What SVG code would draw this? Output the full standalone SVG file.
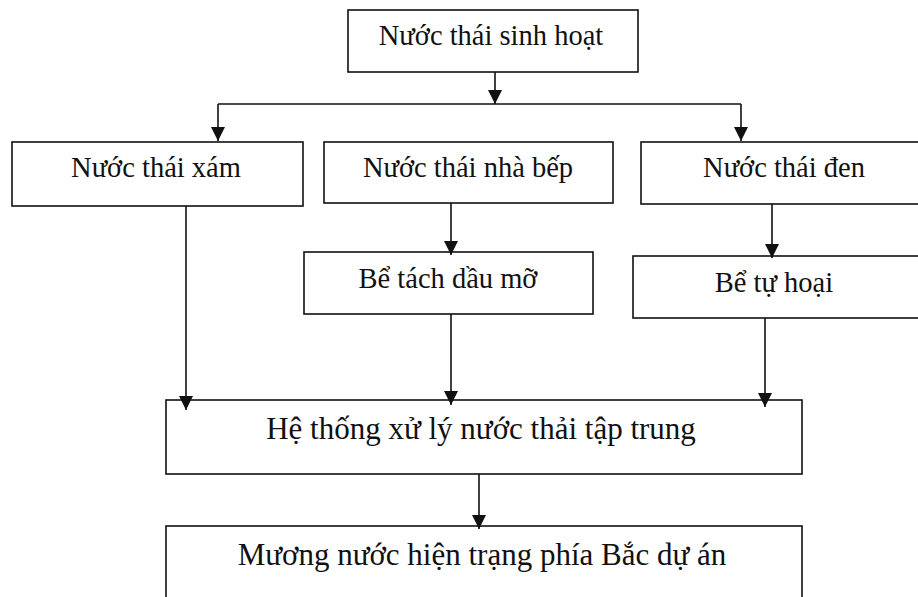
<svg xmlns="http://www.w3.org/2000/svg" width="918" height="597" viewBox="0 0 918 597">
  <style>
    .box { fill: #fff; stroke: #111; stroke-width: 1.6; }
    .lbl { font-family: "Liberation Serif", "Times New Roman", serif; fill: #111; text-anchor: middle; }
    .s { font-size: 28.5px; }
    .l { font-size: 31px; }
    .wire { fill: none; stroke: #111; stroke-width: 1.6; }
  </style>
  <defs>
    <marker id="arrow" markerUnits="userSpaceOnUse" markerWidth="16" markerHeight="16" viewBox="0 -8 16 16" refX="14" refY="0" orient="auto">
      <path d="M0,-7 L14,0 L0,7 z" fill="#111"/>
    </marker>
  </defs>
  <rect width="918" height="597" fill="#fff"/>

  <g id="sinh-hoat">
    <rect class="box" x="348" y="10" width="290" height="62"/>
    <text class="lbl s" x="491" y="45">Nước thái sinh hoạt</text>
  </g>

  <g id="xam">
    <rect class="box" x="12" y="142" width="291" height="64"/>
    <text class="lbl s" x="156" y="177">Nước thái xám</text>
  </g>

  <g id="nha-bep">
    <rect class="box" x="324" y="142" width="289" height="61"/>
    <text class="lbl s" x="468" y="177">Nước thái nhà bếp</text>
  </g>

  <g id="den">
    <rect class="box" x="641" y="142" width="290" height="62"/>
    <text class="lbl s" x="784" y="177">Nước thái đen</text>
  </g>

  <g id="tach-dau-mo">
    <rect class="box" x="304" y="252" width="289" height="62"/>
    <text class="lbl s" x="448" y="288">Bể tách dầu mỡ</text>
  </g>

  <g id="tu-hoai">
    <rect class="box" x="633" y="256" width="298" height="62"/>
    <text class="lbl s" x="774" y="292">Bể tự hoại</text>
  </g>

  <g id="xu-ly">
    <rect class="box" x="166" y="400" width="636" height="74"/>
    <text class="lbl l" x="481" y="439">Hệ thống xử lý nước thải tập trung</text>
  </g>

  <g id="muong">
    <rect class="box" x="166" y="526" width="636" height="90"/>
    <text class="lbl l" x="482" y="565">Mương nước hiện trạng phía Bắc dự án</text>
  </g>

  <g id="connectors">
    <path class="wire" d="M495,72 V104" marker-end="url(#arrow)"/>
    <path class="wire" d="M218,104 H741"/>
    <path class="wire" d="M218,104 V141" marker-end="url(#arrow)"/>
    <path class="wire" d="M741,104 V141" marker-end="url(#arrow)"/>
    <path class="wire" d="M186,206 V410" marker-end="url(#arrow)"/>
    <path class="wire" d="M451,203 V255" marker-end="url(#arrow)"/>
    <path class="wire" d="M772,204 V258" marker-end="url(#arrow)"/>
    <path class="wire" d="M451,314 V405" marker-end="url(#arrow)"/>
    <path class="wire" d="M765,318 V407" marker-end="url(#arrow)"/>
    <path class="wire" d="M479,474 V529" marker-end="url(#arrow)"/>
  </g>
</svg>
